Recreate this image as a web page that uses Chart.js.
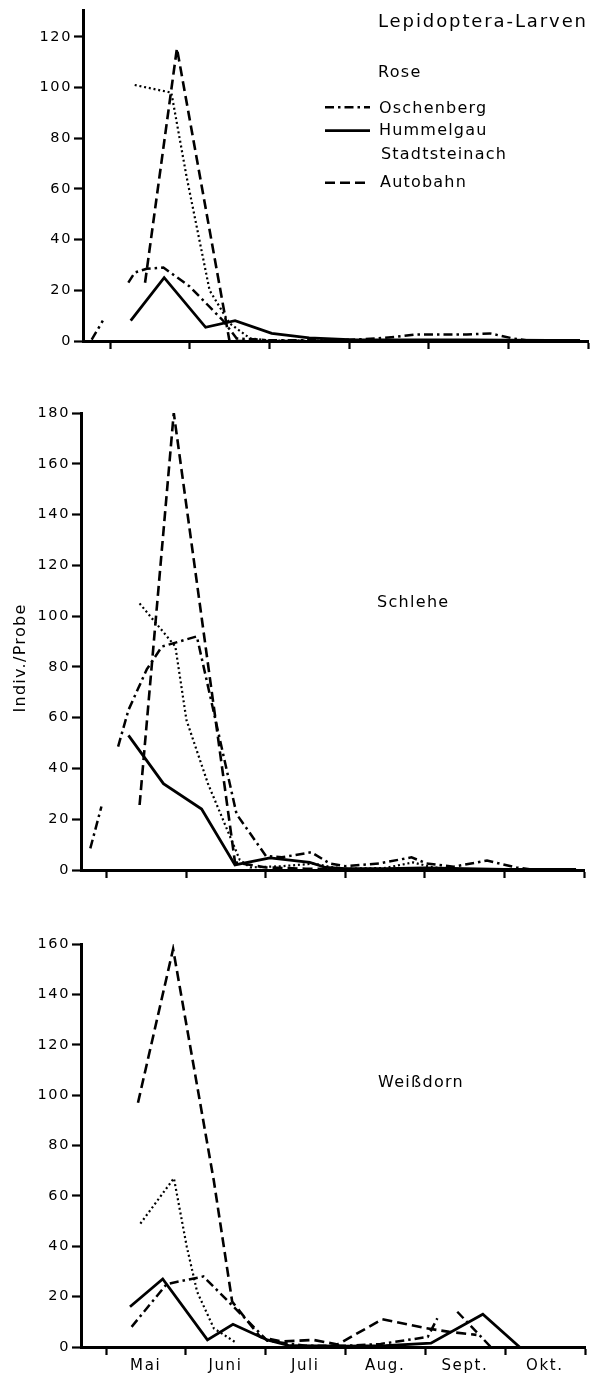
<!DOCTYPE html>
<html><head><meta charset="utf-8">
<script src="https://cdn.jsdelivr.net/npm/chart.js@4.4.1/dist/chart.umd.min.js"></script>
<style>
html,body{margin:0;padding:0;background:#fff;}
body{width:602px;height:1374px;position:relative;overflow:hidden;}
canvas{position:absolute;left:0;}
</style></head><body>
<canvas id="c1" width="602" height="362" style="top:0px;width:602px;height:362px"></canvas>
<canvas id="c2" width="602" height="520" style="top:362px;width:602px;height:520px"></canvas>
<canvas id="c3" width="602" height="492" style="top:882px;width:602px;height:492px"></canvas>
<script>
// ---- tick labels / categories ----
const months = ['Mai', 'Juni', 'Juli', 'Aug.', 'Sept.', 'Okt.'];
const monthTicks = [0, 1, 2, 3, 4, 5, 6];           // month boundaries (months after 1 May)
const seriesNames = ['Oschenberg', 'Hummelgau', 'Stadtsteinach', 'Autobahn'];
const panelNames = ['Rose', 'Schlehe', 'Weißdorn'];
const yTicksRose = [0, 20, 40, 60, 80, 100, 120];
const yTicksSchlehe = [0, 20, 40, 60, 80, 100, 120, 140, 160, 180];
const yTicksWeissdorn = [0, 20, 40, 60, 80, 100, 120, 140, 160];

// ---- data: [months after 1 May, Indiv./Probe]; null = gap in line ----
const roseOschenberg = [[-0.23,0.5],[-0.09,8],[0.07,null],[0.23,23],[0.31,27],[0.46,28.5],[0.67,29],[1.0,21.5],[1.42,8],[1.59,1],[2.0,0.3],[2.5,0.3],[3.0,0.5],[3.35,1],[3.6,1.7],[3.85,2.6],[4.48,2.6],[4.77,3],[5.06,1],[5.3,0],[5.9,0]];
const roseHummelgau = [[0.26,8],[0.68,25],[1.2,5.4],[1.57,8],[2.03,3],[2.5,1.2],[3.0,0.5],[3.5,0.4],[4.0,0.4],[4.5,0.4],[5.0,0.3],[5.5,0.2],[5.9,0.2]];
const roseStadtsteinach = [[0.31,101],[0.77,98],[0.96,65],[1.25,20],[1.5,7],[1.76,1],[2.0,0.2],[2.5,0.2],[3.0,0]];
const roseAutobahn = [[0.44,23],[0.84,115.5],[1.5,0],[2.5,0],[3.5,0],[4.5,0],[5.5,0],[5.9,0]];

const schleheOschenberg = [[-0.21,8.5],[-0.07,25],[0.03,null],[0.14,48.6],[0.27,63],[0.5,79],[0.69,88],[1.13,92],[1.63,22],[2.0,5.5],[2.2,5],[2.57,7],[2.8,2.6],[3.0,1.5],[3.43,2.6],[3.83,5],[4.02,2.6],[4.36,1.3],[4.78,3.7],[5.15,1],[5.4,0],[5.9,0]];
const schleheHummelgau = [[0.27,53],[0.71,34],[1.19,24],[1.61,2],[2.05,4.8],[2.55,3],[2.75,1],[3.0,0.5],[3.5,0.5],[4.0,0.8],[4.5,0.5],[5.0,0.2],[5.9,0.2]];
const schleheStadtsteinach = [[0.41,105],[0.86,88],[1.0,59],[1.27,34],[1.55,13],[1.67,4],[1.8,1],[2.2,1.5],[2.6,2.5],[2.85,1],[3.0,0.5],[3.5,0.8],[3.85,3],[4.1,1],[4.5,0.3],[5.0,0]];
const schleheAutobahn = [[0.41,25.6],[0.84,180],[1.61,3],[2.0,1],[2.5,0.5],[3.0,0.3],[4.0,0.3],[5.0,0],[5.9,0]];

const weissOschenberg = [[0.32,8],[0.76,25],[1.22,28],[2.02,2.5],[2.5,0.5],[3.0,0.5],[3.44,1.2],[4.03,4],[4.15,11.4],[4.28,null],[4.4,14],[4.82,0]];
const weissHummelgau = [[0.3,16],[0.71,27],[1.27,2.8],[1.59,9],[2.02,2.8],[2.3,0.5],[3.0,0.3],[3.5,0.5],[4.07,1.5],[4.72,13],[5.18,0]];
const weissStadtsteinach = [[0.43,49],[0.85,67],[1.01,40],[1.14,22],[1.35,7.4],[1.64,1.5]];
const weissAutobahn = [[0.4,97],[0.84,158],[1.35,66],[1.58,18],[1.93,4],[2.2,2.2],[2.6,2.8],[2.9,1],[3.46,11],[4.0,7.5],[4.3,6],[4.64,4.8]];

// ---- styles ----
const FONT = 'DejaVu Sans';
const lineStyles = {
  Oschenberg:    {borderDash: [9, 4, 2.5, 4], borderWidth: 2.5},
  Hummelgau:     {borderDash: [],             borderWidth: 2.8},
  Stadtsteinach: {borderDash: [2, 2.8],       borderWidth: 2.2},
  Autobahn:      {borderDash: [10, 5],        borderWidth: 2.6}
};

function makeDatasets(arrs) {
  return seriesNames.map((name, i) => ({
    label: name,
    data: arrs[i].map(p => ({x: p[0], y: p[1]})),
    borderColor: '#000',
    backgroundColor: '#000',
    borderDash: lineStyles[name].borderDash,
    borderWidth: lineStyles[name].borderWidth,
    borderCapStyle: 'butt',
    borderJoinStyle: 'miter',
    pointRadius: 0,
    pointHoverRadius: 0,
    tension: 0,
    spanGaps: false,
    fill: false
  }));
}

function makeScales(cfg) {
  return {
    x: {
      type: 'linear', min: cfg.xmin, max: 6,
      afterBuildTicks: s => { s.ticks = monthTicks.map(v => ({value: v})); },
      afterFit: s => { s.height = cfg.xHeight; s.paddingLeft = 0; s.paddingRight = 0; },
      grid: {drawOnChartArea: false, drawTicks: true, tickLength: 8, tickWidth: 2.2, tickColor: '#000', color: '#000'},
      border: {display: true, color: '#000', width: 3},
      ticks: {
        autoSkip: false, maxRotation: 0, minRotation: 0, color: '#000', padding: 2,
        font: {family: FONT, size: 15}, labelOffset: cfg.labelOffset,
        callback: (v, i) => cfg.showMonths ? (months[i] || '') : ''
      }
    },
    y: {
      type: 'linear', min: 0, max: cfg.ymax,
      afterBuildTicks: s => { s.ticks = cfg.yTicks.map(v => ({value: v})); },
      afterFit: s => { s.width = cfg.yWidth; s.paddingTop = 0; s.paddingBottom = 0; },
      grid: {drawOnChartArea: false, drawTicks: true, tickLength: 9, tickWidth: 2.2, tickColor: '#000', color: '#000'},
      border: {display: true, color: '#000', width: 3},
      ticks: {color: '#000', padding: 2, font: {family: FONT, size: 14.5}, callback: v => String(v)}
    }
  };
}

const spacingPlugin = {
  id: 'spacing',
  beforeDraw(chart) { chart.ctx.letterSpacing = '1.6px'; }
};

function textPlugin(items, samples) {
  return {
    id: 'texts',
    afterDraw(chart) {
      const ctx = chart.ctx;
      (samples || []).forEach(s => {
        const st = lineStyles[s.name];
        ctx.save();
        ctx.strokeStyle = '#000';
        ctx.lineWidth = st.borderWidth;
        ctx.setLineDash(st.borderDash);
        ctx.beginPath();
        ctx.moveTo(s.x1, s.y);
        ctx.lineTo(s.x2, s.y);
        ctx.stroke();
        ctx.restore();
      });
      items.forEach(it => {
        ctx.save();
        ctx.fillStyle = '#000';
        ctx.font = it.size + 'px "' + FONT + '"';
        ctx.letterSpacing = (it.ls || 1.2) + 'px';
        ctx.textBaseline = 'alphabetic';
        if (it.rotate) {
          ctx.translate(it.x, it.y);
          ctx.rotate(-Math.PI / 2);
          ctx.textAlign = 'center';
          ctx.fillText(it.text, 0, 0);
        } else {
          ctx.textAlign = 'left';
          ctx.fillText(it.text, it.x, it.y);
        }
        ctx.restore();
      });
    }
  };
}

function makeChart(id, arrs, cfg, texts, samples) {
  return new Chart(document.getElementById(id), {
    type: 'line',
    data: {datasets: makeDatasets(arrs)},
    options: {
      responsive: false, animation: false, devicePixelRatio: 1,
      layout: {padding: {top: cfg.padTop, right: cfg.padRight, left: 0, bottom: 0}},
      plugins: {legend: {display: false}, tooltip: {enabled: false}, title: {display: false}},
      scales: makeScales(cfg)
    },
    plugins: [spacingPlugin, textPlugin(texts, samples)]
  });
}

// Panel 1: Rose
makeChart('c1', [roseOschenberg, roseHummelgau, roseStadtsteinach, roseAutobahn],
  {xmin: -0.339, ymax: 130.6, yTicks: yTicksRose, xHeight: 21, yWidth: 83, padTop: 10, padRight: 14, showMonths: false, labelOffset: 0},
  [
    {text: 'Lepidoptera-Larven', x: 378, y: 26.5, size: 18, ls: 1.9},
    {text: panelNames[0], x: 378, y: 77.3, size: 16, ls: 1.3},
    {text: seriesNames[0], x: 379, y: 112.5, size: 16, ls: 1.2},
    {text: seriesNames[1], x: 379, y: 135, size: 16, ls: 1.2},
    {text: seriesNames[2], x: 381, y: 159, size: 16, ls: 1.2},
    {text: seriesNames[3], x: 380, y: 187.3, size: 16, ls: 1.2}
  ],
  [
    {name: 'Oschenberg', x1: 325, x2: 370, y: 107.3},
    {name: 'Hummelgau', x1: 325, x2: 370, y: 130.7},
    {name: 'Autobahn', x1: 325, x2: 370, y: 182.7}
  ]);

// Panel 2: Schlehe
makeChart('c2', [schleheOschenberg, schleheHummelgau, schleheStadtsteinach, schleheAutobahn],
  {xmin: -0.327, ymax: 180, yTicks: yTicksSchlehe, xHeight: 12, yWidth: 81, padTop: 51, padRight: 18, showMonths: false, labelOffset: 0},
  [
    {text: panelNames[1], x: 377, y: 245.3, size: 16, ls: 1.3},
    {text: 'Indiv./Probe', x: 25, y: 296, size: 16, ls: 1.3, rotate: true}
  ], []);

// Panel 3: Weißdorn
makeChart('c3', [weissOschenberg, weissHummelgau, weissStadtsteinach, weissAutobahn],
  {xmin: -0.314, ymax: 160, yTicks: yTicksWeissdorn, xHeight: 27, yWidth: 81, padTop: 62, padRight: 17, showMonths: true, labelOffset: 39.6},
  [
    {text: panelNames[2], x: 378, y: 205.3, size: 16, ls: 1.3}
  ], []);
</script>
</body></html>
